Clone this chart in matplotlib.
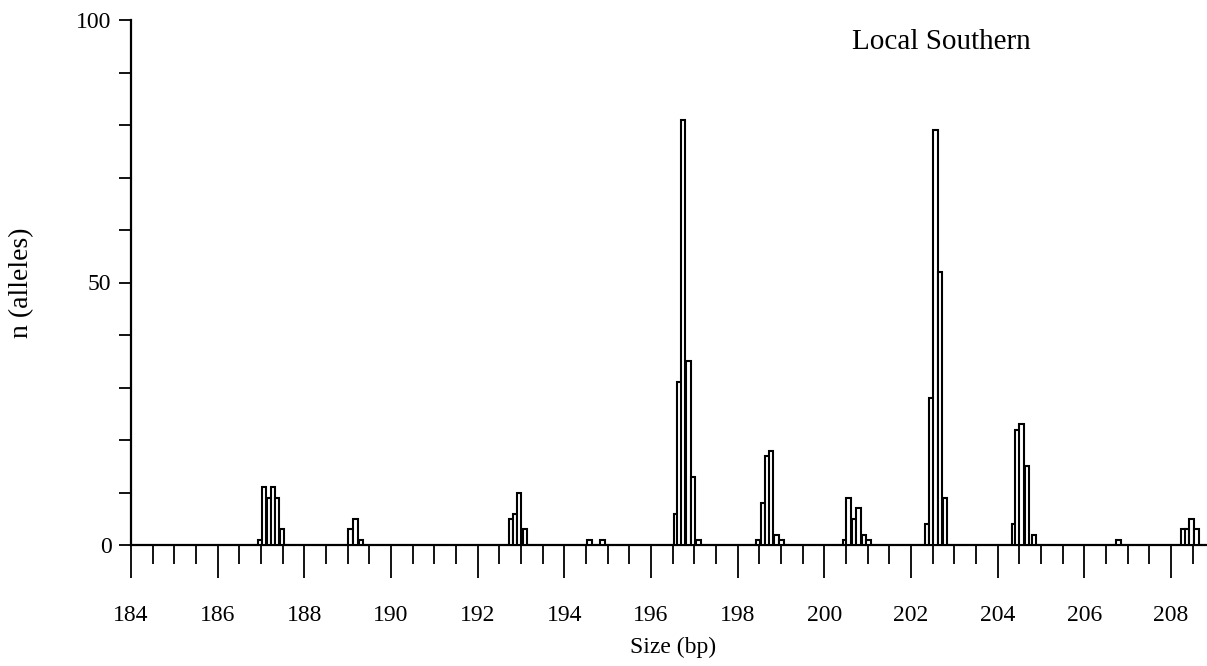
import matplotlib.pyplot as plt
from matplotlib.ticker import MultipleLocator

# allele size (bp, left edge of bar) and number of alleles
sizes = [186.92, 187.02, 187.13, 187.22, 187.32, 187.43,
         189.01, 189.13, 189.25,
         192.72, 192.81, 192.90, 193.04,
         194.53, 194.83,
         196.52, 196.61, 196.69, 196.81, 196.92, 197.04,
         198.42, 198.53, 198.63, 198.72, 198.84, 198.96,
         200.42, 200.51, 200.63, 200.74, 200.86, 200.96,
         202.32, 202.42, 202.51, 202.62, 202.73,
         204.32, 204.40, 204.50, 204.62, 204.79,
         206.74,
         208.23, 208.32, 208.42, 208.54]
counts = [1, 11, 9, 11, 9, 3,
          3, 5, 1,
          5, 6, 10, 3,
          1, 1,
          6, 31, 81, 35, 13, 1,
          1, 8, 17, 18, 2, 1,
          1, 9, 5, 7, 2, 1,
          4, 28, 79, 52, 9,
          4, 22, 23, 15, 2,
          1,
          3, 3, 5, 3]

plt.rcParams['font.family'] = ['Liberation Serif', 'DejaVu Serif']

fig = plt.figure(figsize=(12.07, 6.66), dpi=100)
ax = fig.add_axes([131/1207, 1 - 545/666, 1 - 131/1207, 525/666])

ax.bar(sizes, counts, width=0.105, align='edge', color='white',
       edgecolor='black', linewidth=1.5, zorder=3)

ax.set_xlim(184, 208.83)
ax.set_ylim(0, 100)

for s in ['top', 'right']:
    ax.spines[s].set_visible(False)
for s in ['left', 'bottom']:
    ax.spines[s].set_linewidth(1.6)

ax.xaxis.set_major_locator(MultipleLocator(2))
ax.xaxis.set_minor_locator(MultipleLocator(0.5))
ax.yaxis.set_major_locator(MultipleLocator(50))
ax.yaxis.set_minor_locator(MultipleLocator(10))

ax.tick_params(axis='x', which='major', direction='out', length=24, width=1.3,
               pad=19, labelsize=17)
ax.tick_params(axis='x', which='minor', direction='out', length=14, width=1.3)
ax.tick_params(axis='y', which='both', direction='out', length=9, width=1.3,
               pad=5, labelsize=17)

fig.text(673/1207, 1 - 647/666, "Size (bp)", ha='center', va='center', fontsize=17)
fig.text(22/1207, 1 - 283/666, "n (alleles)", ha='center', va='center',
         rotation=90, fontsize=20)
fig.text(852/1207, 1 - 42/666, "Local Southern", ha='left', va='center', fontsize=21)

fig.savefig("out.png", dpi=100)
